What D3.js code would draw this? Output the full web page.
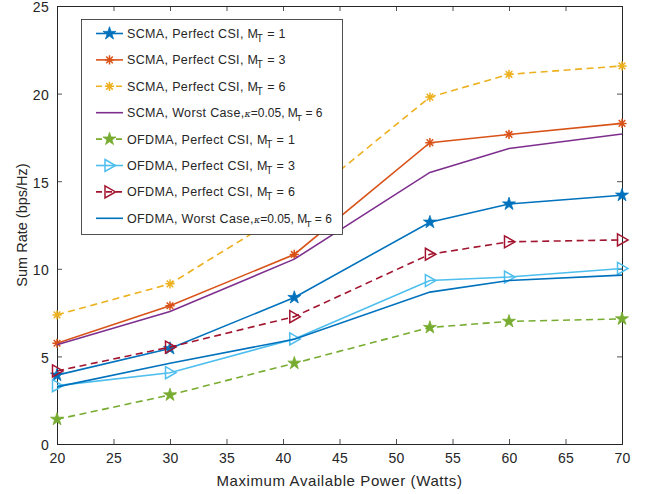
<!DOCTYPE html>
<html><head><meta charset="utf-8">
<script src="https://cdn.jsdelivr.net/npm/d3@7"></script>
<style>
html,body{margin:0;padding:0;background:#fff;}
text{font-family:"Liberation Sans",Arial,Helvetica,sans-serif;fill:#262626;}
</style></head>
<body>
<svg id="chart" width="652" height="494"></svg>
<script>
// ---- data ----
const powerWatts = [20, 30, 41, 53, 60, 70];
const scmaPerfectM1 = [3.93, 5.45, 8.36, 12.66, 13.7, 14.2];
const scmaPerfectM3 = [5.75, 7.89, 10.82, 17.2, 17.67, 18.3];
const scmaPerfectM6 = [7.37, 9.14, 13.5, 19.8, 21.1, 21.58];
const scmaWorstM6 = [5.66, 7.56, 10.55, 15.5, 16.87, 17.69];
const ofdmaPerfectM1 = [1.41, 2.8, 4.61, 6.65, 7.0, 7.14];
const ofdmaPerfectM3 = [3.33, 4.07, 6.0, 9.33, 9.53, 10.02];
const ofdmaPerfectM6 = [4.17, 5.53, 7.27, 10.83, 11.54, 11.65];
const ofdmaWorstM6 = [3.26, 4.61, 5.98, 8.67, 9.33, 9.64];
const xTicks = [20, 25, 30, 35, 40, 45, 50, 55, 60, 65, 70];
const yTicks = [0, 5, 10, 15, 20, 25];
const legendLabels = [
  ["SCMA, Perfect CSI, M", "T", " = 1"],
  ["SCMA, Perfect CSI, M", "T", " = 3"],
  ["SCMA, Perfect CSI, M", "T", " = 6"],
  ["SCMA, Worst Case,", "κ", "=0.05, M", "T", " = 6"],
  ["OFDMA, Perfect CSI, M", "T", " = 1"],
  ["OFDMA, Perfect CSI, M", "T", " = 3"],
  ["OFDMA, Perfect CSI, M", "T", " = 6"],
  ["OFDMA, Worst Case,", "κ", "=0.05, M", "T", " = 6"]
];

const series = [
  {vals: scmaPerfectM1, color: "#0072BD", dash: null, marker: "star"},
  {vals: scmaPerfectM3, color: "#D95319", dash: null, marker: "asterisk"},
  {vals: scmaPerfectM6, color: "#EDB120", dash: "7,4.5", marker: "asterisk"},
  {vals: scmaWorstM6, color: "#7E2F8E", dash: null, marker: null},
  {vals: ofdmaPerfectM1, color: "#77AC30", dash: "7,4.5", marker: "star"},
  {vals: ofdmaPerfectM3, color: "#4DBEEE", dash: null, marker: "tri"},
  {vals: ofdmaPerfectM6, color: "#A2142F", dash: "7,4.5", marker: "tri"},
  {vals: ofdmaWorstM6, color: "#0072BD", dash: null, marker: null}
];

const svg = d3.select("#chart");
const L = 57, R = 622, T = 6, B = 444;
const x = d3.scaleLinear().domain([20, 70]).range([L, R]);
const y = d3.scaleLinear().domain([0, 25]).range([B, T]);
const axisColor = "#262626";

// axes
const gx = svg.append("g").attr("transform", `translate(0,${B})`)
  .call(d3.axisBottom(x).tickValues(xTicks).tickSize(-5).tickPadding(9));
const gy = svg.append("g").attr("transform", `translate(${L},0)`)
  .call(d3.axisLeft(y).tickValues(yTicks).tickSize(-5).tickPadding(8));
const gxt = svg.append("g").attr("transform", `translate(0,${T})`)
  .call(d3.axisTop(x).tickValues(xTicks).tickSize(-5).tickFormat(""));
const gyr = svg.append("g").attr("transform", `translate(${R},0)`)
  .call(d3.axisRight(y).tickValues(yTicks).tickSize(-5).tickFormat(""));
[gx, gy, gxt, gyr].forEach(g => {
  g.select(".domain").attr("stroke", axisColor).attr("stroke-width", 1);
  g.selectAll(".tick line").attr("stroke", axisColor).attr("stroke-width", 0.8);
  g.selectAll(".tick text").attr("fill", axisColor).style("font-size", "14px")
    .style("letter-spacing", "0.3px")
    .style("font-family", '"Liberation Sans",Arial,sans-serif');
});
gy.selectAll(".tick text").attr("dy", "0.42em");

svg.append("text").attr("x", (L + R) / 2).attr("y", 486).attr("text-anchor", "middle")
  .style("font-size", "15px").style("letter-spacing", "0.6px").text("Maximum Available Power (Watts)");
svg.append("text").attr("transform", `translate(27,${(T + B) / 2}) rotate(-90)`)
  .attr("text-anchor", "middle").style("font-size", "14.5px").text("Sum Rate (bps/Hz)");

function starPath(R0) {
  const r0 = R0 * 0.382; let p = "";
  for (let i = 0; i < 10; i++) {
    const a = -Math.PI / 2 + i * Math.PI / 5;
    const rr = i % 2 === 0 ? R0 : r0;
    p += (i ? "L" : "M") + (rr * Math.cos(a)).toFixed(2) + "," + (rr * Math.sin(a)).toFixed(2);
  }
  return p + "Z";
}
function drawMarker(g, type, color, cx, cy) {
  const m = g.append("g").attr("transform", `translate(${cx},${cy})`);
  if (type === "star") {
    m.append("path").attr("d", starPath(6.8)).attr("fill", color).attr("stroke", color).attr("stroke-width", 0.8);
  } else if (type === "asterisk") {
    const s = 4.6, d = s * 0.72;
    m.append("path").attr("d", `M${-s},0L${s},0M0,${-s}L0,${s}M${-d},${-d}L${d},${d}M${-d},${d}L${d},${-d}`)
      .attr("stroke", color).attr("stroke-width", 1.5).attr("fill", "none");
  } else if (type === "tri") {
    m.append("path").attr("d", "M-4.5,-6L6,0L-4.5,6Z").attr("fill", "none")
      .attr("stroke", color).attr("stroke-width", 1.5);
  }
}

const line = d3.line().x((d, i) => x(powerWatts[i])).y(d => y(d));
const plot = svg.append("g");
series.forEach(s => {
  plot.append("path").datum(s.vals).attr("d", line).attr("fill", "none")
    .attr("stroke", s.color).attr("stroke-width", 1.6)
    .attr("stroke-dasharray", s.dash);
  if (s.marker) s.vals.forEach((v, i) => drawMarker(plot, s.marker, s.color, x(powerWatts[i]), y(v)));
});

// legend
const lg = svg.append("g");
lg.append("rect").attr("x", 81.5).attr("y", 19.5).attr("width", 261).attr("height", 215)
  .attr("fill", "#fff").attr("stroke", "#262626").attr("stroke-width", 0.8);
series.forEach((s, i) => {
  const cy = 33.5 + i * 26.4;
  lg.append("line").attr("x1", 96).attr("x2", 123).attr("y1", cy).attr("y2", cy)
    .attr("stroke", s.color).attr("stroke-width", 1.6).attr("stroke-dasharray", s.dash ? "6,4" : null);
  if (s.marker) drawMarker(lg, s.marker, s.color, 109.5, cy);
  const t = lg.append("text").attr("x", 127).attr("y", cy + 4.5).style("font-size", "12.5px")
    .style("letter-spacing", "0.35px");
  const parts = legendLabels[i];
  let lowered = false, afterKappa = false;
  parts.forEach(p => {
    const ts = t.append("tspan").text(p);
    if (afterKappa) ts.style("letter-spacing", "0px").style("font-size", p === "T" ? "9.5px" : "12px");
    if (p === "T") { ts.attr("dy", 4).attr("dx", -1.5); if (!afterKappa) ts.style("font-size", "10px"); lowered = true; }
    else if (p === "κ") { ts.style("font-family", '"DejaVu Serif",serif').style("font-style", "italic").style("font-size", "9.5px").style("letter-spacing", "0px"); afterKappa = true; }
    else if (lowered) { ts.attr("dy", -4); lowered = false; }
  });
});
</script>
</body></html>
